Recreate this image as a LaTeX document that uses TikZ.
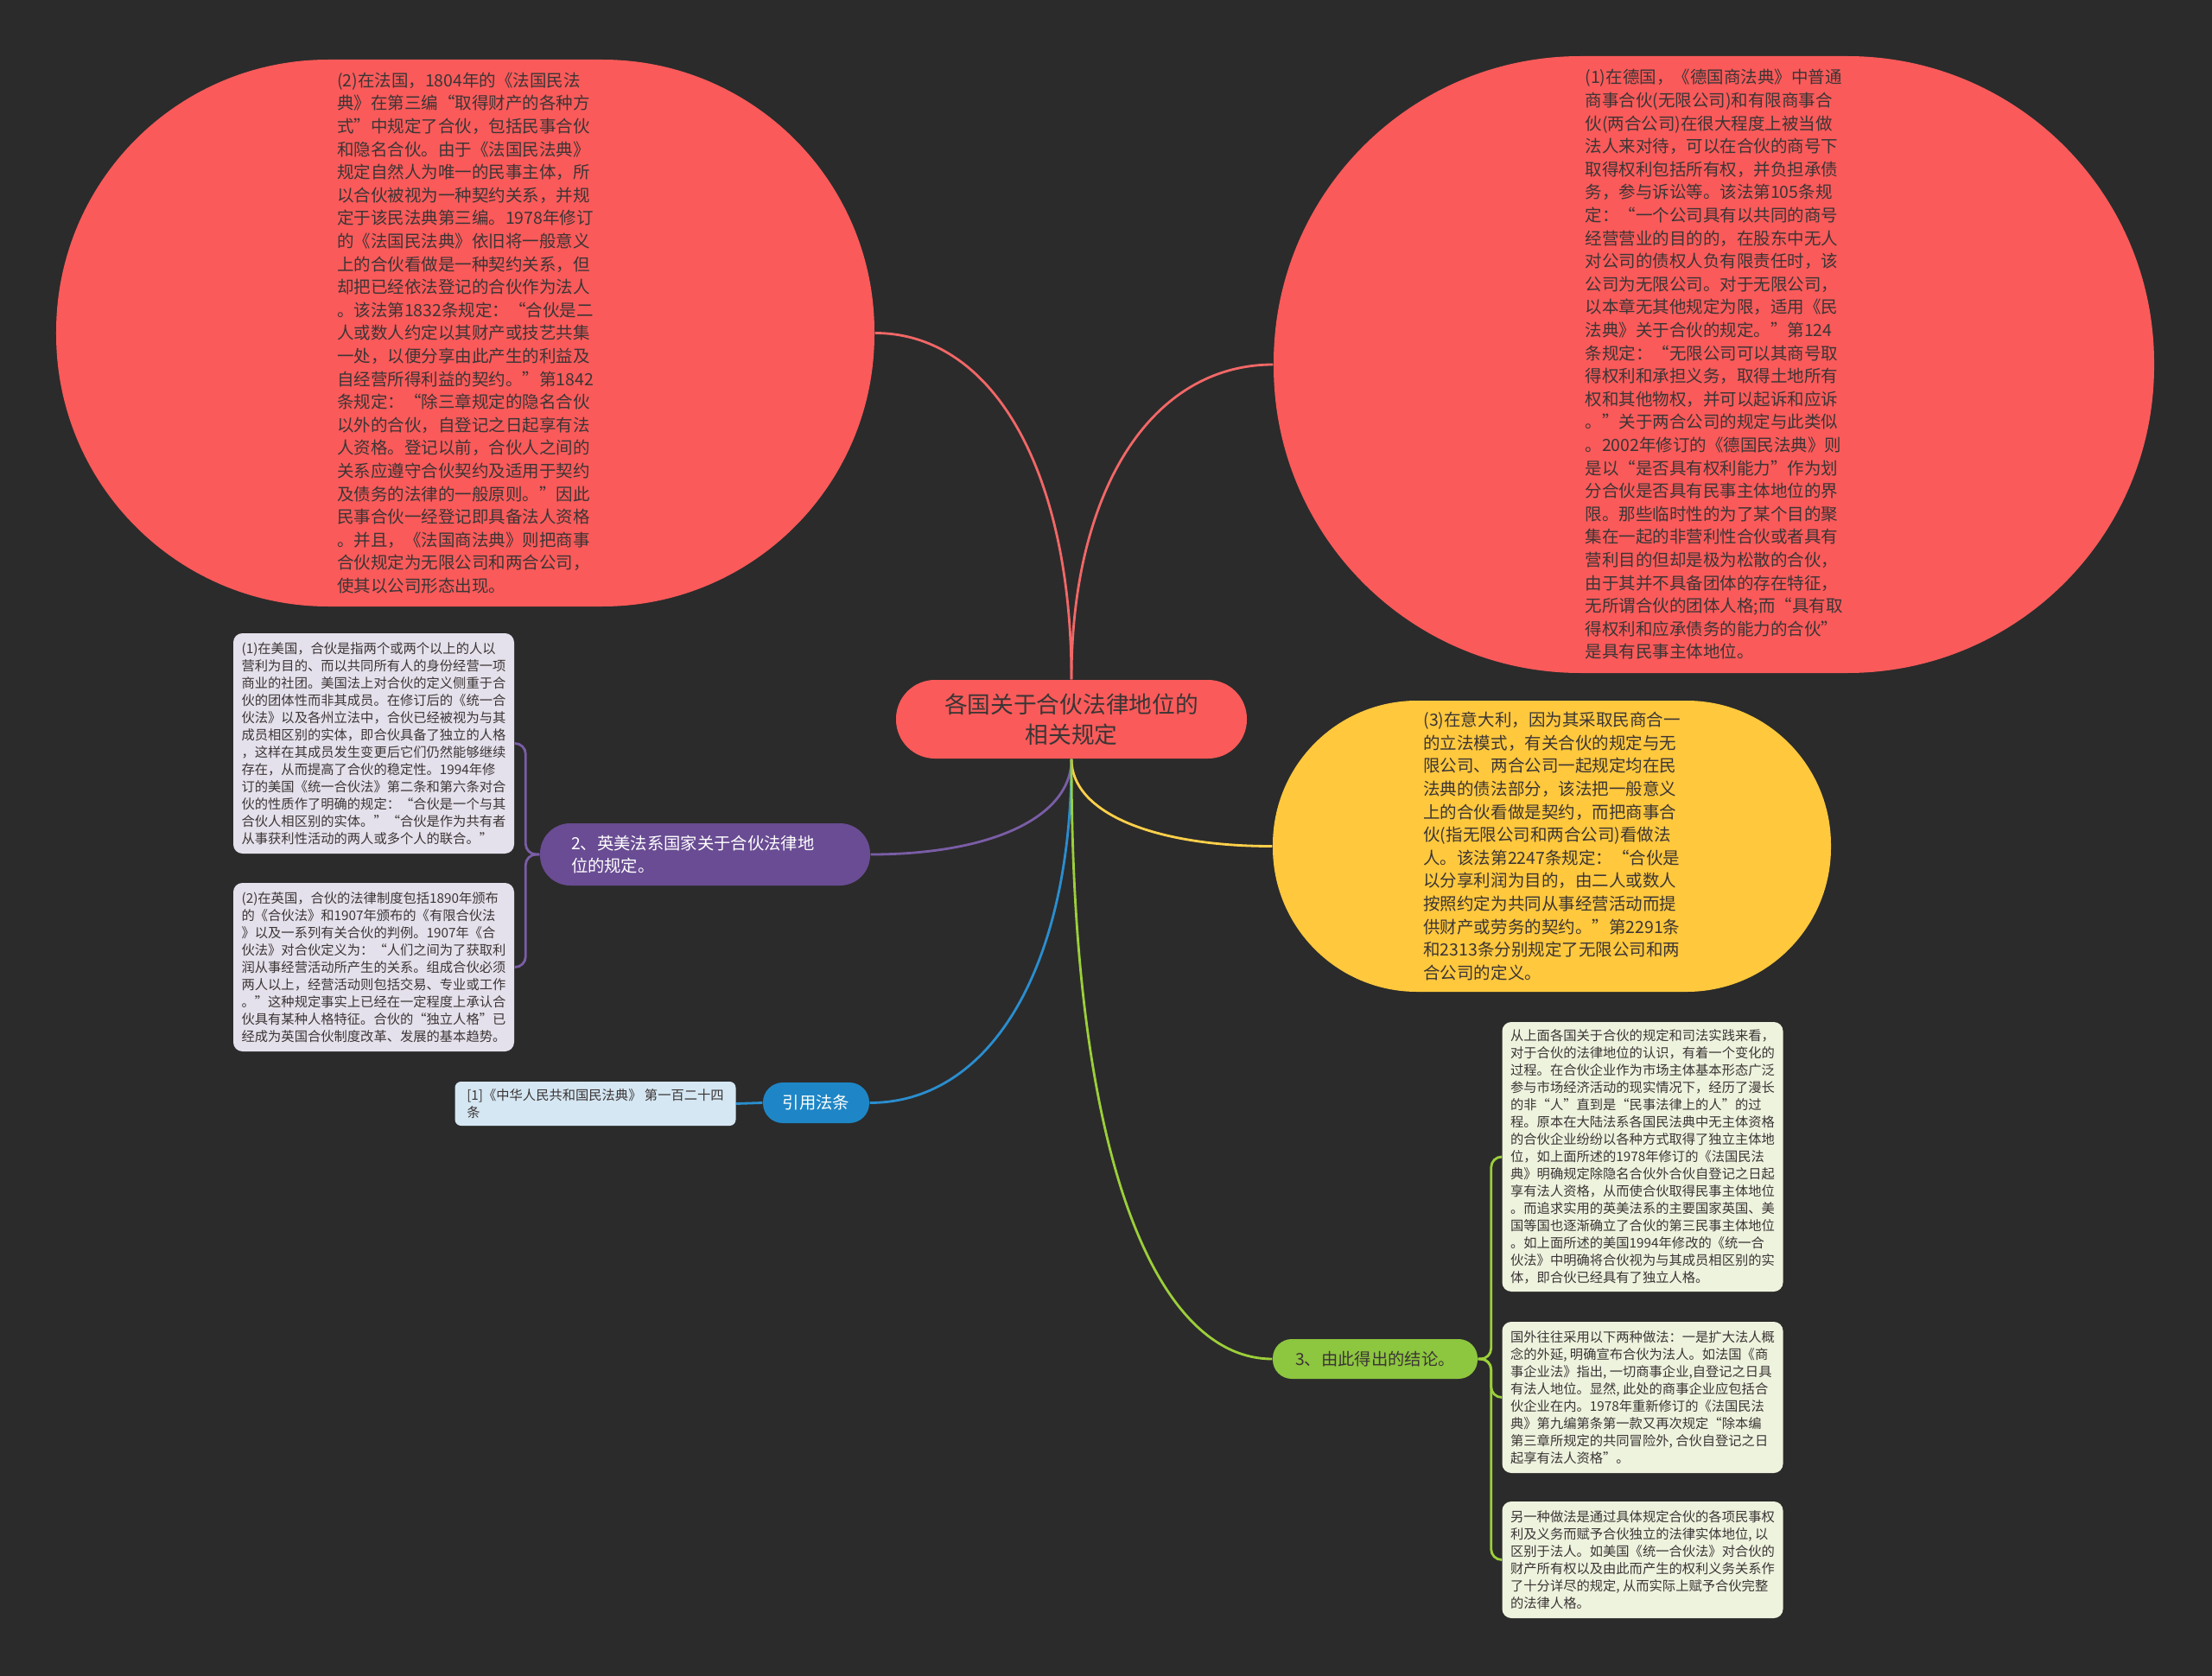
\documentclass[tikz,border=0pt]{standalone}
\usepackage{fontspec}
\setmainfont{Noto Sans CJK SC}
\usepackage{tikz}
\usetikzlibrary{
arrows.meta,
positioning,
calc
}
\definecolor{BgDark}{HTML}{2B2B2B}
\definecolor{InkDark}{HTML}{3B3535}
\definecolor{RootRed}{HTML}{FA5A5A}
\definecolor{SunYellow}{HTML}{FFC83D}
\definecolor{PlumPurple}{HTML}{694C93}
\definecolor{SkyBlue}{HTML}{1E86C6}
\definecolor{LimeGreen}{HTML}{8DC63F}
\definecolor{LilacBox}{HTML}{E5E1EC}
\definecolor{IceBox}{HTML}{D5E7F3}
\definecolor{MintBox}{HTML}{EEF3DE}
\definecolor{LinkRed}{HTML}{F26767}
\definecolor{LinkYellow}{HTML}{FFD04A}
\definecolor{LinkPurple}{HTML}{7A5DA6}
\definecolor{LinkBlue}{HTML}{2A8ED0}
\definecolor{LinkGreen}{HTML}{9CCF3A}
\newcommand\rootfont{\fontsize{7.6}{10}\selectfont}
\newcommand\ovalfont{\fontsize{5.55}{7.57}\selectfont}
\newcommand\branchfont{\fontsize{5.5}{7.4}\selectfont}
\newcommand\leaffont{\fontsize{4.35}{5.7}\selectfont}

\begin{document}
\begin{tikzpicture}[x=1cm,y=1cm,
    oval/.style={rectangle, fill=#1, inner sep=0pt, align=left, text=InkDark, font=\ovalfont},
    branch/.style={rectangle, fill=#1, inner sep=0pt, align=left, font=\branchfont},
    leaf/.style={rectangle, fill=#1, rounded corners=3pt, inner xsep=0.08cm, inner ysep=0.04cm,
        minimum width=3.25cm, align=left, text=InkDark, font=\leaffont},
    link/.style={draw=#1, line width=0.8pt},
    fork/.style={link=#1, rounded corners=3.5pt}]
        \fill[BgDark] (0,0) rectangle (25.6,-19.4);
        \useasboundingbox (0,0) rectangle (25.6,-19.4);
        % centre topic
        \node[oval=RootRed, rounded corners=0.45cm, minimum width=4.06cm, minimum height=0.91cm,
            align=center, font=\rootfont] (root) at (12.40,-8.325) {各国关于合伙法律地位的\\相关规定};
        % big bubbles
        \node[oval=RootRed, rounded corners=3.15cm, minimum width=9.47cm, minimum height=6.33cm] (fr) at (5.385,-3.855) {%
            (2)在法国，1804年的《法国民法\\
            典》在第三编“取得财产的各种方\\
            式”中规定了合伙，包括民事合伙\\
            和隐名合伙。由于《法国民法典》\\
            规定自然人为唯一的民事主体，所\\
            以合伙被视为一种契约关系，并规\\
            定于该民法典第三编。1978年修订\\
            的《法国民法典》依旧将一般意义\\
            上的合伙看做是一种契约关系，但\\
            却把已经依法登记的合伙作为法人\\
            。该法第1832条规定：“合伙是二\\
            人或数人约定以其财产或技艺共集\\
            一处，以便分享由此产生的利益及\\
            自经营所得利益的契约。”第1842\\
            条规定：“除三章规定的隐名合伙\\
            以外的合伙，自登记之日起享有法\\
            人资格。登记以前，合伙人之间的\\
            关系应遵守合伙契约及适用于契约\\
            及债务的法律的一般原则。”因此\\
            民事合伙一经登记即具备法人资格\\
            。并且，《法国商法典》则把商事\\
            合伙规定为无限公司和两合公司，\\
            使其以公司形态出现。};
        \node[oval=RootRed, rounded corners=3.55cm, minimum width=10.19cm, minimum height=7.14cm] (de) at (19.835,-4.22) {%
            (1)在德国，《德国商法典》中普通\\
            商事合伙(无限公司)和有限商事合\\
            伙(两合公司)在很大程度上被当做\\
            法人来对待，可以在合伙的商号下\\
            取得权利包括所有权，并负担承债\\
            务，参与诉讼等。该法第105条规\\
            定：“一个公司具有以共同的商号\\
            经营营业的目的的，在股东中无人\\
            对公司的债权人负有限责任时，该\\
            公司为无限公司。对于无限公司，\\
            以本章无其他规定为限，适用《民\\
            法典》关于合伙的规定。”第124\\
            条规定：“无限公司可以其商号取\\
            得权利和承担义务，取得土地所有\\
            权和其他物权，并可以起诉和应诉\\
            。”关于两合公司的规定与此类似\\
            。2002年修订的《德国民法典》则\\
            是以“是否具有权利能力”作为划\\
            分合伙是否具有民事主体地位的界\\
            限。那些临时性的为了某个目的聚\\
            集在一起的非营利性合伙或者具有\\
            营利目的但却是极为松散的合伙，\\
            由于其并不具备团体的存在特征，\\
            无所谓合伙的团体人格;而“具有取\\
            得权利和应承债务的能力的合伙”\\
            是具有民事主体地位。};
        \node[oval=SunYellow, rounded corners=1.67cm, minimum width=6.46cm, minimum height=3.37cm] (it) at (17.96,-9.795) {%
            (3)在意大利，因为其采取民商合一\\
            的立法模式，有关合伙的规定与无\\
            限公司、两合公司一起规定均在民\\
            法典的债法部分，该法把一般意义\\
            上的合伙看做是契约，而把商事合\\
            伙(指无限公司和两合公司)看做法\\
            人。该法第2247条规定：“合伙是\\
            以分享利润为目的，由二人或数人\\
            按照约定为共同从事经营活动而提\\
            供财产或劳务的契约。”第2291条\\
            和2313条分别规定了无限公司和两\\
            合公司的定义。};
        % branches
        \node[branch=PlumPurple, text=white, text width=3.1cm, rounded corners=0.35cm, minimum width=3.82cm, minimum height=0.72cm] (eng) at (8.16,-9.89) {2、英美法系国家关于合伙法律地\\位的规定。};
        \node[branch=SkyBlue, text=white, rounded corners=0.23cm, minimum width=1.23cm, minimum height=0.47cm] (cit) at (9.445,-12.765) {引用法条};
        \node[branch=LimeGreen, text=InkDark, rounded corners=0.22cm, minimum width=2.37cm, minimum height=0.46cm] (sum) at (15.915,-15.73) {3、由此得出的结论。};
        % leaves
        \node[leaf=LilacBox, minimum height=2.55cm] (usa) at (4.325,-8.605) {%
            (1)在美国，合伙是指两个或两个以上的人以\\
            营利为目的、而以共同所有人的身份经营一项\\
            商业的社团。美国法上对合伙的定义侧重于合\\
            伙的团体性而非其成员。在修订后的《统一合\\
            伙法》以及各州立法中，合伙已经被视为与其\\
            成员相区别的实体，即合伙具备了独立的人格\\
            ，这样在其成员发生变更后它们仍然能够继续\\
            存在，从而提高了合伙的稳定性。1994年修\\
            订的美国《统一合伙法》第二条和第六条对合\\
            伙的性质作了明确的规定：“合伙是一个与其\\
            合伙人相区别的实体。”“合伙是作为共有者\\
            从事获利性活动的两人或多个人的联合。”};
        \node[leaf=LilacBox, minimum height=1.95cm] (uk) at (4.325,-11.195) {%
            (2)在英国，合伙的法律制度包括1890年颁布\\
            的《合伙法》和1907年颁布的《有限合伙法\\
            》以及一系列有关合伙的判例。1907年《合\\
            伙法》对合伙定义为：“人们之间为了获取利\\
            润从事经营活动所产生的关系。组成合伙必须\\
            两人以上，经营活动则包括交易、专业或工作\\
            。”这种规定事实上已经在一定程度上承认合\\
            伙具有某种人格特征。合伙的“独立人格”已\\
            经成为英国合伙制度改革、发展的基本趋势。};
        \node[leaf=IceBox, rounded corners=2pt, minimum height=0.51cm] (cite) at (6.89,-12.775) {[1]《中华人民共和国民法典》 第一百二十四\\条};
        \node[leaf=MintBox, minimum height=3.12cm] (concl1) at (19.01,-13.39) {%
            从上面各国关于合伙的规定和司法实践来看，\\
            对于合伙的法律地位的认识，有着一个变化的\\
            过程。在合伙企业作为市场主体基本形态广泛\\
            参与市场经济活动的现实情况下，经历了漫长\\
            的非“人”直到是“民事法律上的人”的过\\
            程。原本在大陆法系各国民法典中无主体资格\\
            的合伙企业纷纷以各种方式取得了独立主体地\\
            位，如上面所述的1978年修订的《法国民法\\
            典》明确规定除隐名合伙外合伙自登记之日起\\
            享有法人资格，从而使合伙取得民事主体地位\\
            。而追求实用的英美法系的主要国家英国、美\\
            国等国也逐渐确立了合伙的第三民事主体地位\\
            。如上面所述的美国1994年修改的《统一合\\
            伙法》中明确将合伙视为与其成员相区别的实\\
            体，即合伙已经具有了独立人格。};
        \node[leaf=MintBox, minimum height=1.75cm] (concl2) at (19.01,-16.175) {%
            国外往往采用以下两种做法：一是扩大法人概\\
            念的外延, 明确宣布合伙为法人。如法国《商\\
            事企业法》指出, 一切商事企业,自登记之日具\\
            有法人地位。显然, 此处的商事企业应包括合\\
            伙企业在内。1978年重新修订的《法国民法\\
            典》第九编第条第一款又再次规定“除本编\\
            第三章所规定的共同冒险外, 合伙自登记之日\\
            起享有法人资格”。};
        \node[leaf=MintBox, minimum height=1.35cm] (concl3) at (19.01,-18.055) {%
            另一种做法是通过具体规定合伙的各项民事权\\
            利及义务而赋予合伙独立的法律实体地位, 以\\
            区别于法人。如美国《统一合伙法》对合伙的\\
            财产所有权以及由此而产生的权利义务关系作\\
            了十分详尽的规定, 从而实际上赋予合伙完整\\
            的法律人格。};
        % connectors
        \draw[link=LinkRed] (root.north) .. controls +(0,2.4) and +(1.37,0) .. (fr.east);
        \draw[link=LinkRed] (root.north) .. controls +(0,2.2) and +(-1.4,0) .. (de.west);
        \foreach \tgt/\col/\k/\m in {eng.east/LinkPurple/-0.67/1.4, cit.east/LinkBlue/-2.4/1.4,
            it.west/LinkYellow/-0.61/-1.4, sum.west/LinkGreen/-4.9/-1.25}{
            \draw[link=\col] (root.south) .. controls +(0,\k) and +(\m,0) .. (\tgt);
        }
        \foreach \leafnode in {usa,uk}{
            \draw[fork=LinkPurple] (eng.west) -- ++(-0.16,0) |- (\leafnode.east);
        }
        \draw[link=LinkBlue] (cit.west) -- (cite.east);
        \foreach \leafnode in {concl1,concl2,concl3}{
            \draw[fork=LinkGreen] (sum.east) -- ++(0.15,0) |- (\leafnode.west);
        }
    \end{tikzpicture}
\end{document}
